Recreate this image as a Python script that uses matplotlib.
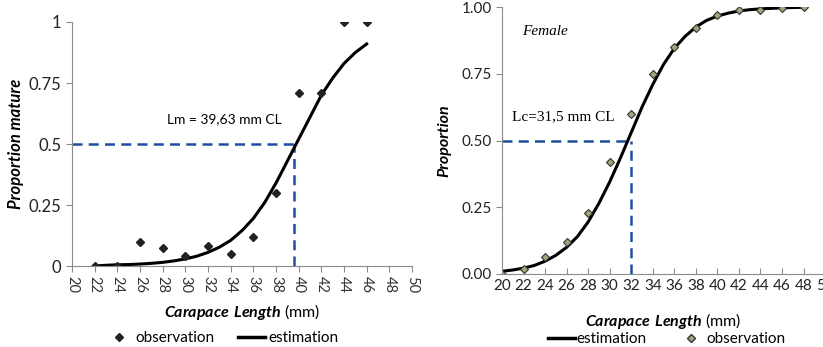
import numpy as np
import matplotlib
matplotlib.use('Agg')
from matplotlib import pyplot as plt
from matplotlib.lines import Line2D

plt.rcParams['font.family'] = ['Lato', 'DejaVu Sans']
plt.rcParams['mathtext.fontset'] = 'custom'
plt.rcParams['mathtext.bfit'] = 'Lato:bold:italic'

# left panel: proportion mature
obs_x1 = [22, 24, 26, 28, 30, 32, 34, 36, 38, 40, 42, 44, 46]
obs_y1 = [0.0, 0.0, 0.10, 0.075, 0.04, 0.08, 0.05, 0.12, 0.30, 0.71, 0.71, 1.0, 1.0]
est_x1 = list(range(22, 47))
est_y1 = [0.0, 0.003, 0.005, 0.006, 0.008, 0.011, 0.015, 0.021, 0.029, 0.04, 0.056,
          0.077, 0.105, 0.145, 0.195, 0.26, 0.34, 0.43, 0.52, 0.61, 0.70, 0.77,
          0.83, 0.875, 0.91]
lm = 39.63

# right panel: female proportion
obs_x2 = [20, 22, 24, 26, 28, 30, 32, 34, 36, 38, 40, 42, 44, 46, 48]
obs_y2 = [0.0, 0.02, 0.065, 0.12, 0.23, 0.42, 0.60, 0.75, 0.85, 0.92, 0.97, 0.99, 0.99, 0.995, 1.0]
est_x2 = list(range(20, 49))
est_y2 = [0.01, 0.015, 0.022, 0.032, 0.048, 0.07, 0.10, 0.14, 0.195, 0.265, 0.345,
          0.435, 0.53, 0.625, 0.71, 0.785, 0.845, 0.89, 0.925, 0.95, 0.966, 0.977,
          0.985, 0.99, 0.993, 0.995, 0.997, 0.998, 0.999]
lc = 32

xticks = list(range(20, 52, 2))
blue = '#1f4e9c'
grey = '#8c8c8c'

fig = plt.figure(figsize=(8.23, 3.47), dpi=100)

# ---- left
ax1 = fig.add_axes([0.0875, 0.2334, 0.4131, 0.7032])
ax1.plot([20, lm], [0.5, 0.5], color=blue, ls=(0, (4, 2.5)), lw=1.8)
ax1.plot([lm, lm], [0, 0.5], color=blue, ls=(0, (4, 2.5)), lw=1.8)
ax1.plot(est_x1, est_y1, color='black', lw=2.2)
ax1.plot(obs_x1, obs_y1, 'D', color='#222222', ms=4.5, ls='none')
ax1.set_xlim(20, 50)
ax1.set_ylim(0, 1)
ax1.set_xticks(xticks)
ax1.set_xticklabels([str(t) for t in xticks], rotation=-90, fontsize=10.5, color='#333333')
ax1.set_yticks([0, 0.25, 0.5, 0.75, 1])
ax1.set_yticklabels(['0', '0.25', '0.5', '0.75', '1'], fontsize=12, color='#222222')
for s in ['top', 'right']:
    ax1.spines[s].set_visible(False)
for s in ['left', 'bottom']:
    ax1.spines[s].set_color(grey)
ax1.tick_params(axis='both', color=grey, length=4)
ax1.set_ylabel('Proportion mature', fontsize=12, fontweight='bold', style='italic')
ax1.yaxis.set_label_coords(-0.14, 0.5)
ax1.text(28.4, 0.6, 'Lm = 39,63 mm CL', fontsize=10, va='center')
ax1.text(0.5, -0.19, r'$\mathbfit{Carapace\ Length}$ (mm)', transform=ax1.transAxes,
         ha='center', va='center', fontsize=11.5)
h1 = [Line2D([], [], marker='D', color='#222222', ls='none', ms=4),
      Line2D([], [], color='black', lw=2.5)]
ax1.legend(h1, ['observation', 'estimation'], loc='center', bbox_to_anchor=(0.44, -0.295),
           ncol=2, frameon=False, fontsize=11, handlelength=1.8, columnspacing=1.5,
           handletextpad=0.2)

# ---- right
ax2 = fig.add_axes([0.61, 0.2104, 0.3925, 0.7694])
ax2.plot([20, lc], [0.5, 0.5], color=blue, ls=(0, (4, 2.5)), lw=1.8)
ax2.plot([lc, lc], [0, 0.5], color=blue, ls=(0, (4, 2.5)), lw=1.8)
ax2.plot(est_x2, est_y2, color='black', lw=2.2)
ax2.plot(obs_x2, obs_y2, 'D', mfc='#a3a57a', mec='#333333', mew=0.8, ms=4.2, ls='none')
ax2.set_xlim(20, 50)
ax2.set_ylim(0, 1)
ax2.set_xticks(xticks)
ax2.set_xticklabels([str(t) for t in xticks], fontsize=11, color='#222222')
ax2.set_yticks([0, 0.25, 0.5, 0.75, 1])
ax2.set_yticklabels(['0.00', '0.25', '0.50', '0.75', '1.00'], fontsize=11, color='#222222')
for s in ['top', 'right']:
    ax2.spines[s].set_visible(False)
for s in ['left', 'bottom']:
    ax2.spines[s].set_color(grey)
ax2.tick_params(axis='x', direction='in', color=grey, length=4)
ax2.tick_params(axis='y', direction='out', color=grey, length=4)
ax2.set_ylabel('Proportion', fontsize=11.5, fontweight='bold', style='italic')
ax2.yaxis.set_label_coords(-0.156, 0.5)
ax2.text(20.9, 0.59, 'Lc=31,5 mm CL', fontsize=11, va='center', family='Liberation Serif')
ax2.text(21.9, 0.91, 'Female', fontsize=11, va='center', style='italic', family='Liberation Serif')
ax2.text(0.5, -0.175, r'$\mathbfit{Carapace\ Length}$ (mm)', transform=ax2.transAxes,
         ha='center', va='center', fontsize=11.5)
h2 = [Line2D([], [], color='black', lw=2.5),
      Line2D([], [], marker='D', mfc='#a3a57a', mec='#333333', ls='none', ms=4)]
ax2.legend(h2, ['estimation', 'observation'], loc='center', bbox_to_anchor=(0.51, -0.245),
           ncol=2, frameon=False, fontsize=11, handlelength=1.8, columnspacing=2.0,
           handletextpad=0.1)

fig.savefig('out.png', dpi=100)
